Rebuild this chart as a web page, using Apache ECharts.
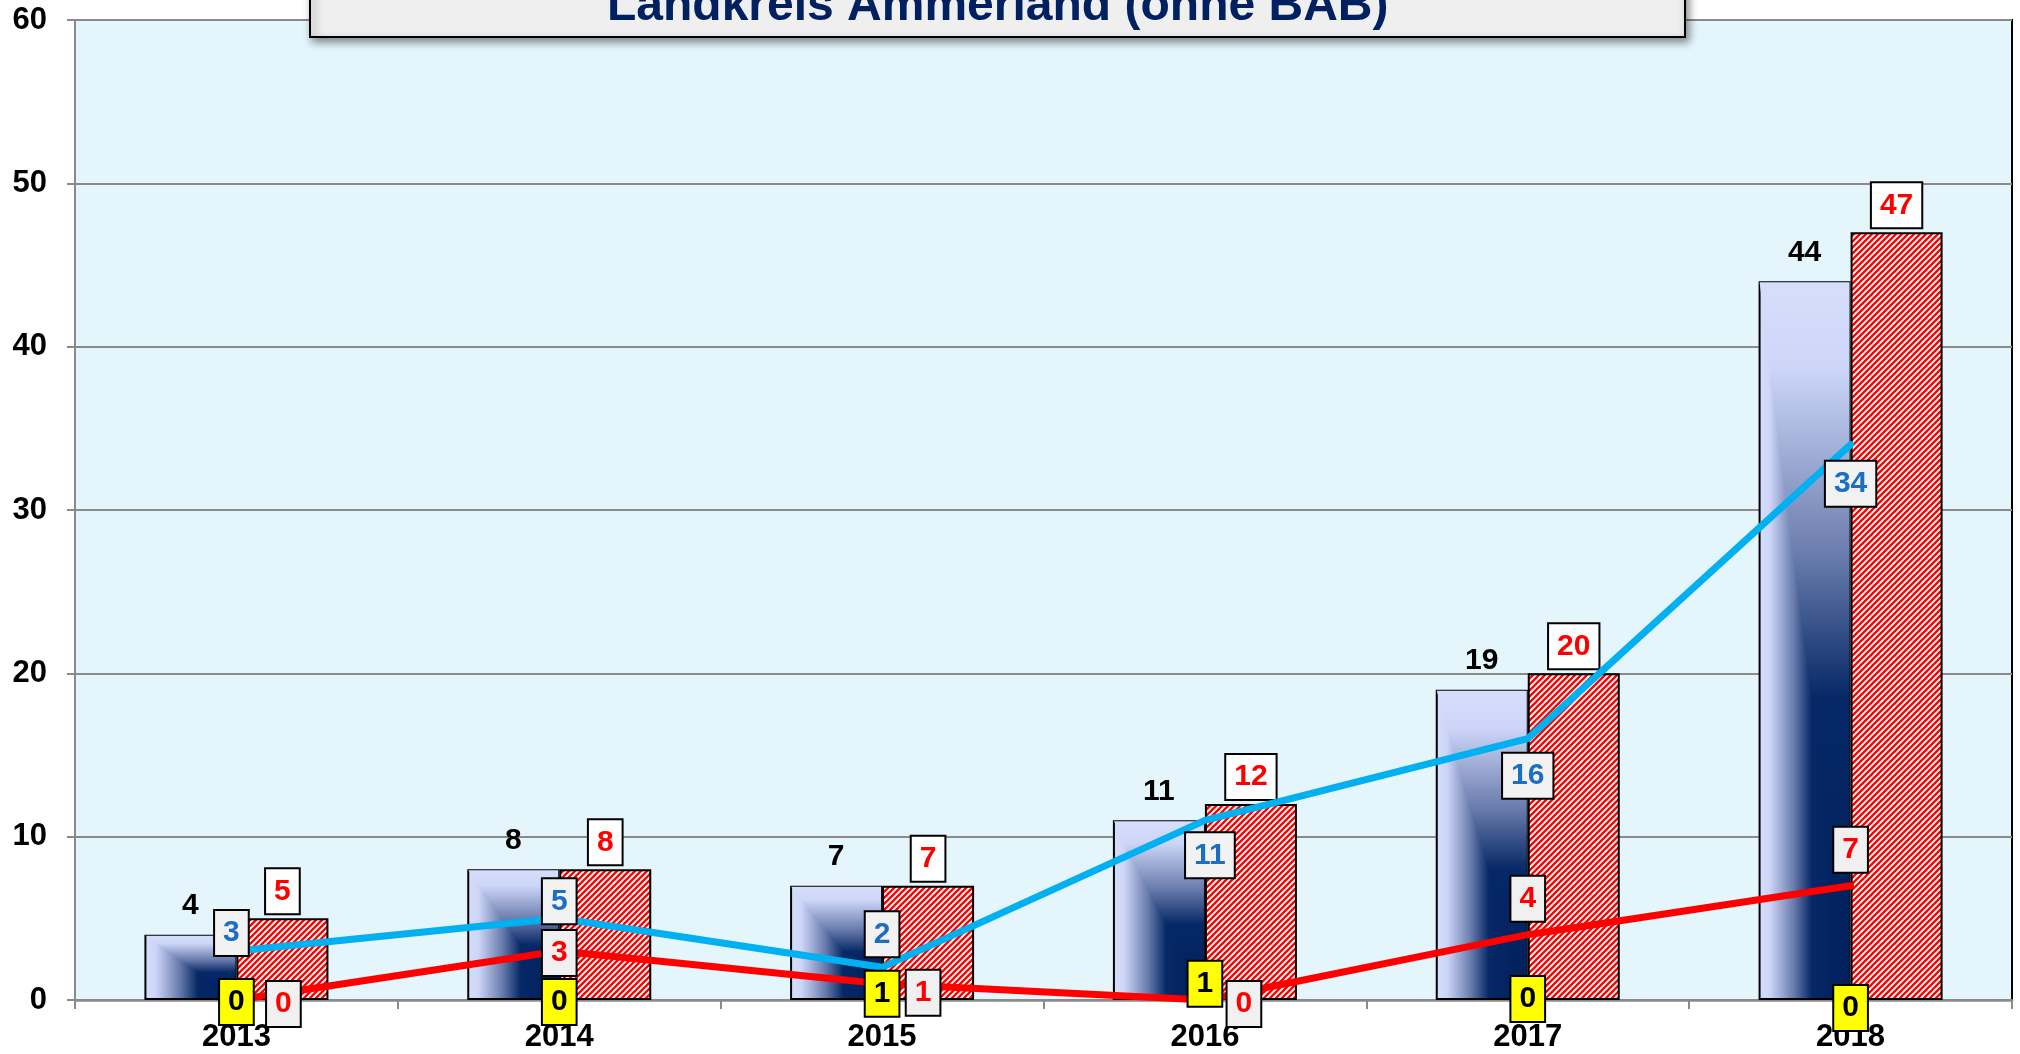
<!DOCTYPE html>
<html>
<head>
<meta charset="utf-8">
<title>Landkreis Ammerland (ohne BAB)</title>
<script src="https://cdn.jsdelivr.net/npm/echarts@6/dist/echarts.min.js"></script>
<style>
  html, body { margin: 0; padding: 0; background: #fff; }
  #chart { width: 2020px; height: 1054px; }
</style>
</head>
<body>
<div id="chart"></div>
<script>
// ── Daten ─────────────────────────────────────────────
const years      = ['2013', '2014', '2015', '2016', '2017', '2018'];
const barBlue    = [4, 8, 7, 11, 19, 44];
const barRed     = [5, 8, 7, 12, 20, 47];
const lineBlue   = [3, 5, 2, 11, 16, 34];
const lineRed    = [0, 3, 1, 0, 4, 7];
const lineYellow = [0, 0, 1, 1, 0, 0];

// Label-Verschiebungen (px) für die Linien-Beschriftungen
const blueOffsets   = [[-5, -18], [0, -17], [0, -33], [5, 35], [0, 37], [0, 39]];
const redOffsets    = [[47, 4], [0, 2], [41, 9], [39, 4], [0, -36], [0, -36]];
const yellowOffsets = [[0, 2], [0, 2], [0, 10], [0, 0], [0, -1], [0, 8]];

// ── Stil ──────────────────────────────────────────────
const FONT  = 'Liberation Sans, Arial, sans-serif';
const BAR_W = 92;

// Farbverlauf "von Ecke" (hell oben/links -> dunkel unten rechts)
const blueStops = [
  { offset: 0,    color: '#d6defc' },
  { offset: 0.12, color: '#cdd6f8' },
  { offset: 0.38, color: '#6a7cad' },
  { offset: 0.58, color: '#062866' },
  { offset: 1,    color: '#001f5b' }
];

// rote Schraffur
function hatch() {
  const c = document.createElement('canvas');
  c.width = c.height = 6;
  const g = c.getContext('2d');
  g.fillStyle = '#ffffff';
  g.fillRect(0, 0, 6, 6);
  g.strokeStyle = '#ff0000';
  g.lineWidth = 2.3;
  g.beginPath();
  g.moveTo(-1, 7); g.lineTo(7, -1);
  g.moveTo(-1, 1); g.lineTo(1, -1);
  g.moveTo(5, 7);  g.lineTo(7, 5);
  g.stroke();
  return c;
}

function boxLabel(bg, color) {
  return {
    show: true,
    fontFamily: FONT, fontSize: 30, fontWeight: 'bold', lineHeight: 32,
    color: color,
    backgroundColor: bg,
    borderColor: '#000', borderWidth: 2,
    padding: [6, 8]
  };
}

function lineData(values, offsets) {
  return values.map((v, i) => ({ value: v, label: { offset: offsets[i] } }));
}

const chart = echarts.init(document.getElementById('chart'));

chart.setOption({
  backgroundColor: '#ffffff',
  animation: false,
  title: {
    text: 'Landkreis Ammerland (ohne BAB)',
    left: 310, top: -21,
    padding: [4, 297, 6, 297],
    backgroundColor: '#efefef',
    borderColor: '#000', borderWidth: 2,
    shadowBlur: 8, shadowColor: 'rgba(0,0,0,0.45)',
    shadowOffsetX: 3, shadowOffsetY: 4,
    textStyle: { fontFamily: FONT, fontSize: 48, fontWeight: 'bold', color: '#002060', lineHeight: 48 }
  },
  grid: {
    left: 75, right: 8, top: 20, bottom: 54,
    show: true,
    backgroundColor: '#e4f5fc',
    borderColor: '#000', borderWidth: 2
  },
  xAxis: {
    type: 'category',
    data: years,
    axisLine: { lineStyle: { color: '#8a8a8a', width: 2.5 } },
    axisTick: { show: true, length: 9, lineStyle: { color: '#8a8a8a', width: 2 } },
    axisLabel: { margin: 22, fontFamily: FONT, fontSize: 31, fontWeight: 'bold', color: '#000' }
  },
  yAxis: {
    type: 'value',
    min: 0, max: 60, interval: 10,
    axisLine: { show: true, lineStyle: { color: '#8a8a8a', width: 2 } },
    axisTick: { show: true, length: 8, lineStyle: { color: '#8a8a8a', width: 2 } },
    axisLabel: { margin: 28, fontFamily: FONT, fontSize: 31, fontWeight: 'bold', color: '#000' },
    splitLine: { lineStyle: { color: '#8a8a8a', width: 2 } }
  },
  series: [
    {
      name: 'blau',
      type: 'bar',
      z: 2,
      data: barBlue,
      barWidth: BAR_W,
      barGap: '0%',
      itemStyle: {
        color: new echarts.graphic.LinearGradient(0, 0, 1, 0, blueStops),
        borderColor: '#000', borderWidth: 2
      },
      label: {
        show: true, position: 'top', distance: 13,
        fontFamily: FONT, fontSize: 30, fontWeight: 'bold', lineHeight: 32, color: '#000'
      }
    },
    {
      name: 'rot',
      type: 'bar',
      z: 2,
      data: barRed,
      barWidth: BAR_W,
      barGap: '0%',
      itemStyle: {
        color: { image: hatch(), repeat: 'repeat' },
        borderColor: '#000', borderWidth: 2
      },
      label: Object.assign(boxLabel('#ffffff', '#ff0000'), { position: 'top', distance: 5 })
    },
    {
      // oberes Dreieck des Eckverlaufs auf den blauen Säulen
      name: 'verlauf',
      type: 'custom',
      z: 3,
      silent: true,
      clip: false,
      coordinateSystem: 'cartesian2d',
      encode: { x: 0, y: 1 },
      data: barBlue.map((v, i) => [i, v]),
      renderItem: function (params, api) {
        const i = api.value(0);
        const top  = api.coord([i, api.value(1)]);
        const base = api.coord([i, 0]);
        const x1 = top[0] - 1;
        const x0 = top[0] - BAR_W + 1;
        const y0 = top[1] + 1;
        const y1 = base[1] - 1;
        return {
          type: 'polygon',
          shape: { points: [[x0, y0], [x1, y0], [x1, y1]] },
          style: {
            fill: {
              type: 'linear', x: 0, y: 0, x2: 0, y2: 1,
              colorStops: blueStops
            }
          }
        };
      }
    },
    {
      name: 'linie blau',
      type: 'line',
      z: 4,
      data: lineData(lineBlue, blueOffsets),
      symbol: 'circle', symbolSize: 2,
      itemStyle: { color: '#00b0f0' },
      lineStyle: { color: '#00b0f0', width: 7, cap: 'round' },
      label: Object.assign(boxLabel('#f2f2f2', '#1b6ec2'), { position: 'inside' })
    },
    {
      name: 'linie rot',
      type: 'line',
      z: 4,
      data: lineData(lineRed, redOffsets),
      symbol: 'circle', symbolSize: 2,
      itemStyle: { color: '#ff0000' },
      lineStyle: { color: '#ff0000', width: 7, cap: 'round' },
      label: Object.assign(boxLabel('#f0f0f0', '#ff0000'), { position: 'inside' })
    },
    {
      name: 'gelb',
      type: 'line',
      z: 5,
      data: lineData(lineYellow, yellowOffsets),
      symbol: 'circle', symbolSize: 1,
      itemStyle: { color: 'rgba(0,0,0,0)' },
      lineStyle: { width: 0, color: 'rgba(0,0,0,0)' },
      label: Object.assign(boxLabel('#ffff00', '#000000'), { position: 'inside' })
    }
  ]
});
</script>
</body>
</html>
